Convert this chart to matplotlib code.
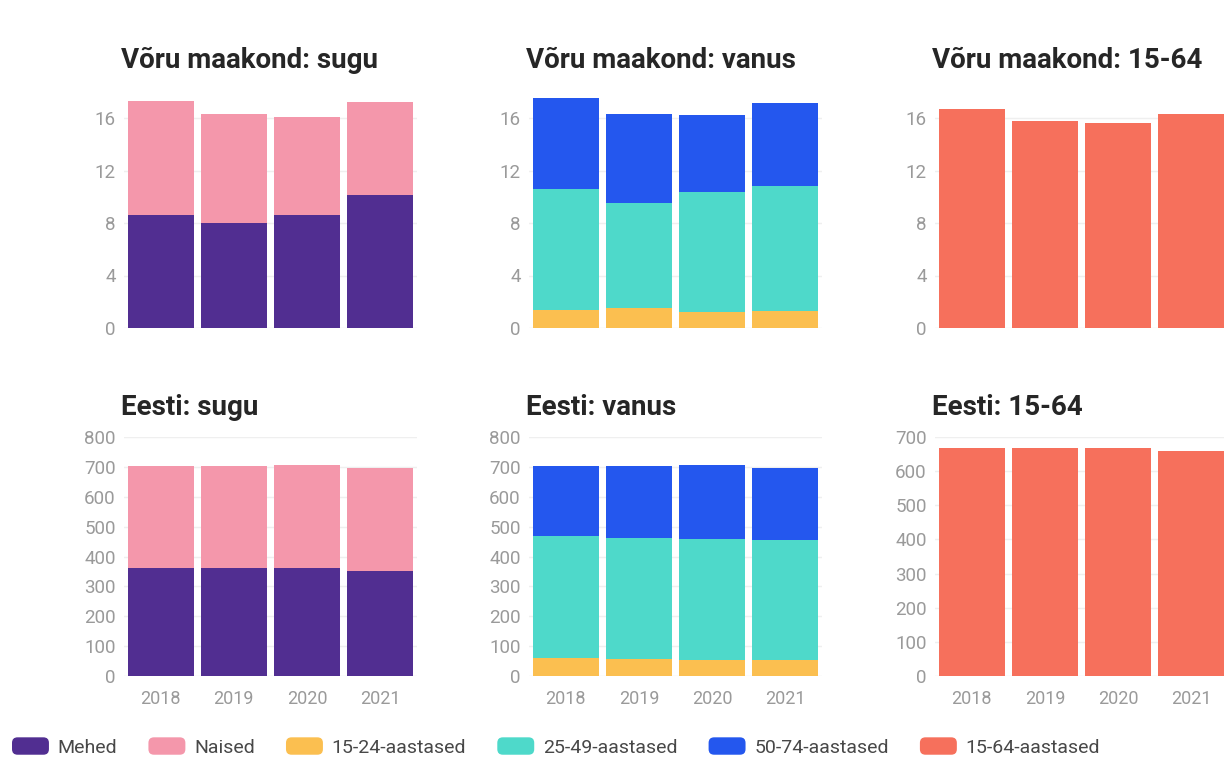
import numpy as np
import matplotlib.pyplot as plt
from matplotlib.patches import Patch, FancyBboxPatch
from matplotlib.legend_handler import HandlerPatch

plt.rcParams['font.family'] = ['Roboto', 'DejaVu Sans']

# --- DATA ---
years = ['2018', '2019', '2020', '2021']

# Võru maakond (tuhat)
voru_mehed = [8.6, 8.0, 8.6, 10.1]
voru_naised = [8.7, 8.3, 7.5, 7.1]
voru_15_24 = [1.35, 1.5, 1.2, 1.3]
voru_25_49 = [9.25, 8.0, 9.2, 9.5]
voru_50_74 = [6.9, 6.8, 5.8, 6.35]
voru_15_64 = [16.7, 15.8, 15.6, 16.3]

# Eesti (tuhat)
eesti_mehed = [360, 360, 362, 352]
eesti_naised = [343, 343, 343, 343]
eesti_15_24 = [60, 57, 55, 52]
eesti_25_49 = [407, 405, 405, 403]
eesti_50_74 = [236, 241, 245, 240]
eesti_15_64 = [667, 667, 669, 658]

titles_top = ['Võru maakond: sugu', 'Võru maakond: vanus', 'Võru maakond: 15-64']
titles_bottom = ['Eesti: sugu', 'Eesti: vanus', 'Eesti: 15-64']

legend_labels = ['Mehed', 'Naised', '15-24-aastased', '25-49-aastased',
                 '50-74-aastased', '15-64-aastased']
colors = ['#512e91', '#f497ab', '#fbbf50', '#4ed9ca', '#2457ee', '#f6705c']

# --- LAYOUT ---
W, H = 1224, 760
fig = plt.figure(figsize=(W / 100, H / 100), dpi=100)

col_left = [124, 529, 935]
col_w = 293
rows = [(97, 328), (437, 676)]  # (top px, bottom px)
title_base = [68, 415]

tick_col = '#9a9a9a'
x = np.arange(len(years))


def make_ax(col, row):
    top, bot = rows[row]
    ax = fig.add_axes([col_left[col] / W, 1 - bot / H, col_w / W, (bot - top) / H])
    for s in ax.spines.values():
        s.set_visible(False)
    ax.set_xlim(-0.5, len(years) - 0.5)
    ax.set_xticks(x)
    ax.tick_params(axis='y', length=0, colors=tick_col, labelsize=13.5, pad=6)
    ax.tick_params(axis='x', length=0, colors=tick_col, labelsize=13, pad=10)
    ax.grid(axis='y', color='#efefef', linewidth=1)
    ax.set_axisbelow(True)
    if row == 0:
        ax.set_xticklabels([])
    else:
        ax.set_xticklabels(years)
    return ax


def stack(ax, series, cols):
    bottom = np.zeros(len(years))
    for vals, c in zip(series, cols):
        ax.bar(x, vals, 0.9, bottom=bottom, color=c, linewidth=0)
        bottom += np.array(vals)


# top row
ax = make_ax(0, 0)
stack(ax, [voru_mehed, voru_naised], colors[0:2])
ax.set_ylim(0, 17.6)
ax.set_yticks([0, 4, 8, 12, 16])

ax = make_ax(1, 0)
stack(ax, [voru_15_24, voru_25_49, voru_50_74], colors[2:5])
ax.set_ylim(0, 17.6)
ax.set_yticks([0, 4, 8, 12, 16])

ax = make_ax(2, 0)
stack(ax, [voru_15_64], colors[5:6])
ax.set_ylim(0, 17.6)
ax.set_yticks([0, 4, 8, 12, 16])

# bottom row
ax = make_ax(0, 1)
stack(ax, [eesti_mehed, eesti_naised], colors[0:2])
ax.set_ylim(0, 800)
ax.set_yticks(range(0, 801, 100))

ax = make_ax(1, 1)
stack(ax, [eesti_15_24, eesti_25_49, eesti_50_74], colors[2:5])
ax.set_ylim(0, 800)
ax.set_yticks(range(0, 801, 100))

ax = make_ax(2, 1)
stack(ax, [eesti_15_64], colors[5:6])
ax.set_ylim(0, 700)
ax.set_yticks(range(0, 701, 100))

# titles
for row, tlist in enumerate([titles_top, titles_bottom]):
    for i, t in enumerate(tlist):
        fig.text((col_left[i] - 3) / W, 1 - title_base[row] / H, t, fontsize=20,
                 fontweight='bold', color='#262626', va='baseline', ha='left')


# legend with rounded swatches
class RoundHandler(HandlerPatch):
    def create_artists(self, legend, orig_handle, xdescent, ydescent,
                       width, height, fontsize, trans):
        p = FancyBboxPatch((-xdescent, -ydescent), width, height,
                           boxstyle='round,pad=0,rounding_size=4',
                           facecolor=orig_handle.get_facecolor(),
                           edgecolor='none', transform=trans)
        return [p]


handles = [Patch(facecolor=c, edgecolor='none') for c in colors]
fig.legend(handles, legend_labels, loc='center left', ncol=6,
           bbox_to_anchor=(12 / W, 1 - 747 / H), frameon=False,
           borderaxespad=0, borderpad=0,
           fontsize=14, handlelength=1.9, handleheight=1.0,
           handletextpad=0.45, columnspacing=1.6, labelcolor='#484848',
           handler_map={Patch: RoundHandler()})

fig.savefig('out.png', dpi=100, facecolor='white')
